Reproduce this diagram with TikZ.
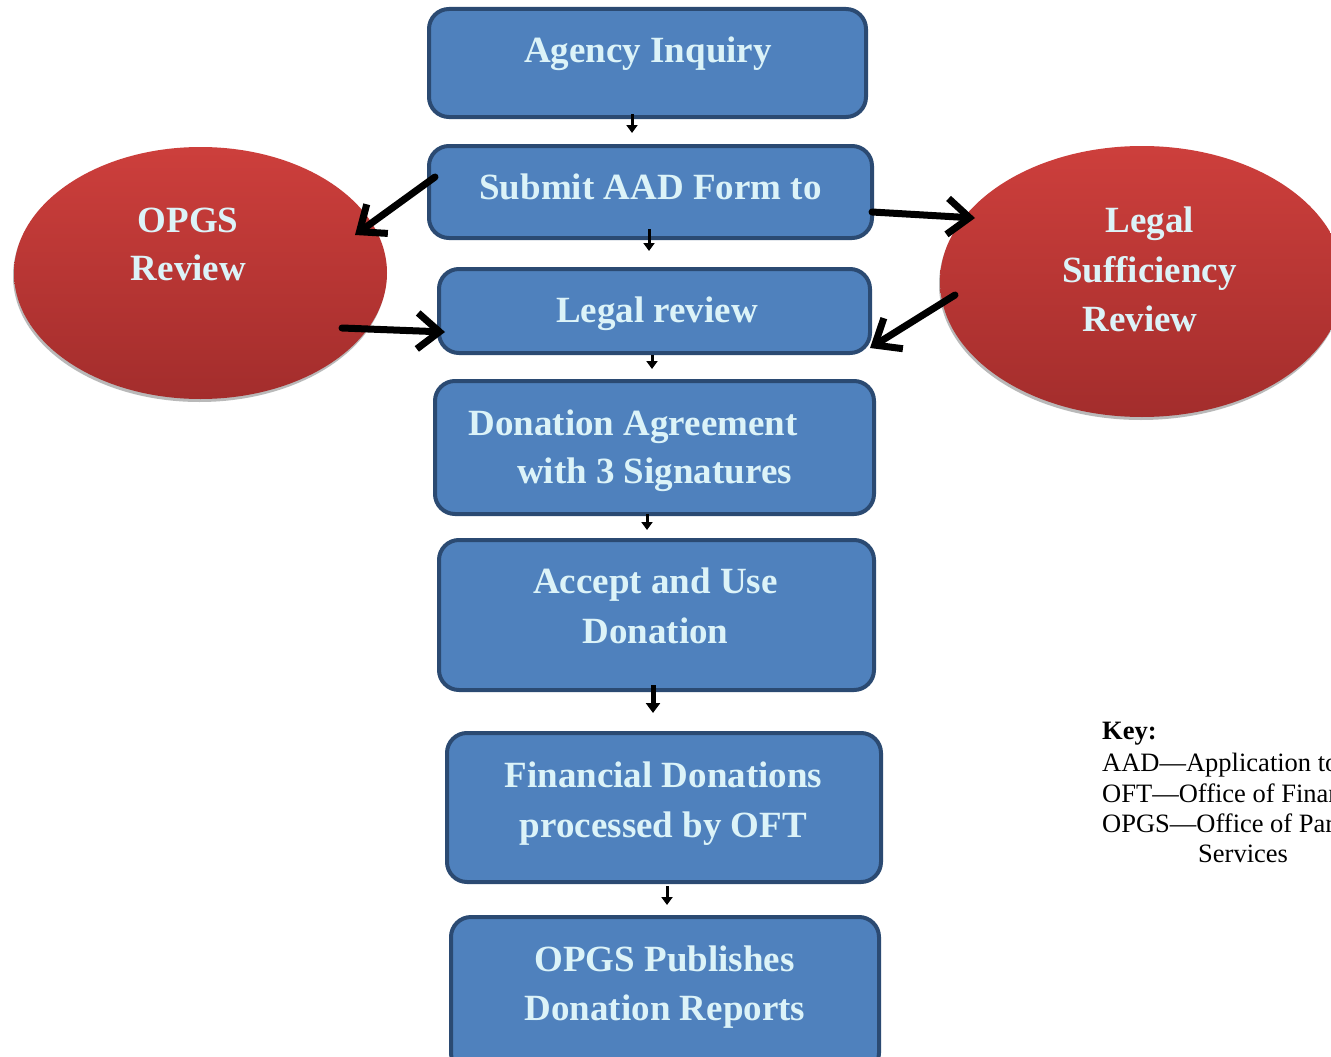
\documentclass[tikz,border=0pt]{standalone}
\usepackage{fontspec}
\setmainfont{Liberation Serif}
\usetikzlibrary{shapes.geometric,arrows.meta}
\definecolor{boxfill}{HTML}{4F81BD}
\definecolor{boxline}{HTML}{2B4A72}
\definecolor{txtcol}{HTML}{DCF3F8}
\definecolor{redtop}{HTML}{CD3F3C}
\definecolor{redbot}{HTML}{A32D2C}
\tikzset{
  box/.style={rectangle, draw=boxline, fill=boxfill, line width=4pt, rounded corners=20pt, inner sep=0pt},
  btxt/.style={font=\bfseries\fontsize{37}{49}\selectfont, text=txtcol, anchor=base, inner sep=0pt},
  ktxt/.style={font=\fontsize{26.5}{30.5}\selectfont, text=black, anchor=base west, inner sep=0pt},
  ell/.style={ellipse, inner sep=0pt, draw=none, top color=redtop, bottom color=redbot},
  ellshadow/.style={ellipse, inner sep=0pt, draw=none, fill=gray!55},
  dn/.style={line width=3pt, -{Triangle[length=8pt,width=11pt]}},
  dnthick/.style={line width=5pt, -{Triangle[length=10pt,width=14pt]}},
  big/.style={line width=7pt, line cap=round, -{Straight Barb[length=22pt,width=36pt,line width=7pt]}},
}
\begin{document}
\begin{tikzpicture}[x=1pt,y=-1pt]
\useasboundingbox (0,0) rectangle (1331,1057);
\fill[white] (0,0) rectangle (1331,1057);

% ellipses
\node[ellshadow, minimum width=373pt, minimum height=252pt] (eLs) at (199.5,276) {};
\node[ell, minimum width=373pt, minimum height=252pt] (eL) at (200.5,273) {};
\node[ellshadow, minimum width=404pt, minimum height=271pt] (eRs) at (1141,284.5) {};
\node[ell, minimum width=404pt, minimum height=271pt] (eR) at (1142,281.5) {};

% boxes
\node[box, minimum width=437pt, minimum height=108pt] (b1) at (647.5,63) {};
\node[box, minimum width=443pt, minimum height=92pt] (b2) at (650.5,192) {};
\node[box, minimum width=431pt, minimum height=84pt] (b3) at (654.5,311) {};
\node[box, minimum width=439pt, minimum height=133pt] (b4) at (654.5,447.5) {};
\node[box, minimum width=435pt, minimum height=150pt] (b5) at (656.5,615) {};
\node[box, minimum width=434pt, minimum height=149pt] (b6) at (664,807.5) {};
\node[box, minimum width=428pt, minimum height=156pt] (b7) at (665,995) {};

% box texts
\node[btxt] (t1) at (648,63) {Agency Inquiry};
\node[btxt] (t2) at (650.5,199) {Submit AAD Form to};
\node[btxt] (t3) at (657,322) {Legal review};
\node[btxt] (t4a) at (633,435) {Donation Agreement};
\node[btxt] (t4b) at (654.5,483) {with 3 Signatures};
\node[btxt] (t5a) at (655.5,593) {Accept and Use};
\node[btxt] (t5b) at (655.5,643) {Donation};
\node[btxt] (t6a) at (663.5,787) {Financial Donations};
\node[btxt] (t6b) at (663.5,837) {processed by OFT};
\node[btxt] (t7a) at (664.5,971) {OPGS Publishes};
\node[btxt] (t7b) at (665,1020) {Donation Reports};

% ellipse texts
\node[btxt] (eLt1) at (188,232) {OPGS};
\node[btxt] (eLt2) at (188.5,280) {Review};
\node[btxt] (eRt1) at (1150,232) {Legal};
\node[btxt] (eRt2) at (1149.5,282) {Sufficiency};
\node[btxt] (eRt3) at (1140,331) {Review};

% small down arrows
\draw[dn, shorten <=-5pt, shorten >=11pt] ([xshift=-15.5pt]b1.south) -- ([xshift=-15.5pt]b1.south |- b2.north);
\draw[dn, shorten <=-11pt, shorten >=16pt] ([xshift=-1.5pt]b2.south) -- ([xshift=-1.5pt]b2.south |- b3.north);
\draw[dn, shorten <=0pt, shorten >=10pt] ([xshift=-2.5pt]b3.south) -- ([xshift=-2.5pt]b3.south |- b4.north);
\draw[dn, shorten <=-2pt, shorten >=8pt] ([xshift=-7.5pt]b4.south) -- ([xshift=-7.5pt]b4.south |- b5.north);
\draw[dnthick, shorten <=-7pt, shorten >=18pt] ([xshift=-3.5pt]b5.south) -- ([xshift=-3.5pt]b5.south |- b6.north);
\draw[dn, shorten <=2pt, shorten >=10pt] ([xshift=3pt]b6.south) -- ([xshift=3pt]b6.south |- b7.north);

% big arrows
\draw[big] ([shift={(8,-15)}]b2.west) -- ([shift={(154.5,-38)}]eL.center);
\draw[big] ([shift={(141.5,55)}]eL.center) -- ([shift={(8,21)}]b3.west);
\draw[big] ([shift={(-2,20)}]b2.east) -- ([shift={(-167,-63.5)}]eR.center);
\draw[big] ([shift={(-187,13.5)}]eR.center) -- ([shift={(-2,37)}]b3.east);

% key
\node[ktxt, font=\bfseries\fontsize{26.5}{30.5}\selectfont] (k0) at (1102,739) {Key:};
\node[ktxt] (k1) at (1102,771) {AAD—Application to};
\node[ktxt] (k2) at (1102,802) {OFT—Office of Finan};
\node[ktxt] (k3) at (1102,832) {OPGS—Office of Par};
\node[ktxt] (k4) at (1198,862) {Services};
\end{tikzpicture}
\end{document}
